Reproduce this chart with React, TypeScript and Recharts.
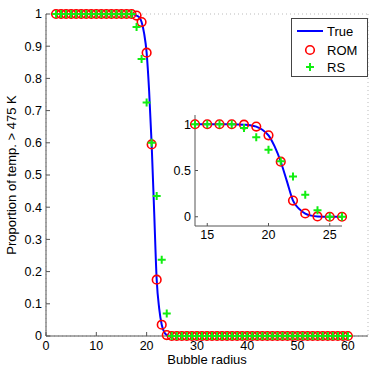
import {
  ComposedChart,
  Line,
  Scatter,
  XAxis,
  YAxis,
  CartesianGrid,
} from "recharts";

// bubble radii where ROM and RS were evaluated
const radii = [
  2, 3, 4, 5, 6, 7, 8, 9, 10, 11, 12, 13, 14, 15, 16, 17, 18, 19, 20, 21, 22,
  23, 24, 25, 26, 27, 28, 29, 30, 31, 32, 33, 34, 35, 36, 37, 38, 39, 40, 41,
  42, 43, 44, 45, 46, 47, 48, 49, 50, 51, 52, 53, 54, 55, 56, 57, 58, 59, 60,
];

const romValues = [
  1, 1, 1, 1, 1, 1, 1, 1, 1, 1, 1, 1, 1, 1, 1, 1, 0.995, 0.975, 0.88, 0.595,
  0.175, 0.035, 0.003, 0, 0, 0, 0, 0, 0, 0, 0, 0, 0, 0, 0, 0, 0, 0, 0, 0, 0, 0,
  0, 0, 0, 0, 0, 0, 0, 0, 0, 0, 0, 0, 0, 0, 0, 0, 0,
];

const rsValues = [
  1, 1, 1, 1, 1, 1, 1, 1, 1, 1, 1, 1, 1, 1, 1, 1, 0.96, 0.86, 0.725, 0.6,
  0.435, 0.237, 0.07, 0, 0, 0, 0, 0, 0, 0, 0, 0, 0, 0, 0, 0, 0, 0, 0, 0, 0, 0,
  0, 0, 0, 0, 0, 0, 0, 0, 0, 0, 0, 0, 0, 0, 0, 0, 0,
];

// reference ("True") curve
const trueRadii = [
  2, 14, 17, 18, 18.5, 19, 19.5, 20, 20.5, 21, 21.5, 22, 22.5, 23, 23.5, 24, 25,
  26, 60,
];
const trueValues = [
  1, 1, 1, 0.995, 0.99, 0.975, 0.94, 0.88, 0.76, 0.595, 0.385, 0.175, 0.085,
  0.035, 0.012, 0.003, 0, 0, 0,
];

const mainXTicks = [0, 10, 20, 30, 40, 50, 60];
const mainYTicks = [0, 0.1, 0.2, 0.3, 0.4, 0.5, 0.6, 0.7, 0.8, 0.9, 1];
const insetXTicks = [15, 20, 25];
const insetYTicks = [0, 0.5, 1];

const romData = radii.map((x, i) => ({ x, y: romValues[i] }));
const rsData = radii.map((x, i) => ({ x, y: rsValues[i] }));
const trueData = trueRadii.map((x, i) => ({ x, y: trueValues[i] }));

const insetRange = (d: { x: number }) => d.x >= 14 && d.x <= 26;

const AXIS = "#555";
const FONT = "'Liberation Sans', Arial, sans-serif";
const tickStyle = { fontSize: 12.5, fill: "#000", fontFamily: FONT };

const Ring = (props: any) => (
  <circle
    cx={props.cx}
    cy={props.cy}
    r={4.3}
    fill="none"
    stroke="#ff0000"
    strokeWidth={1.6}
  />
);

const Plus = (props: any) => (
  <path
    d={`M${props.cx - 4},${props.cy}h8M${props.cx},${props.cy - 4}v8`}
    stroke="#11ee11"
    strokeWidth={2}
    fill="none"
  />
);

function LegendBox() {
  return (
    <div
      style={{
        position: "absolute",
        left: 291,
        top: 18,
        width: 75,
        height: 57,
        background: "#fff",
        border: "1px solid #444",
      }}
    >
      <svg width={75} height={57} style={{ display: "block", fontFamily: FONT }}>
        <line x1={5} y1={12} x2={31} y2={12} stroke="#0000ff" strokeWidth={2} />
        <circle cx={18} cy={31} r={4.3} fill="none" stroke="#ff0000" strokeWidth={1.6} />
        <path d="M14,48h8M18,44v8" stroke="#11ee11" strokeWidth={2} />
        <text x={35} y={17} fontSize={13}>True</text>
        <text x={35} y={36} fontSize={13}>ROM</text>
        <text x={35} y={53} fontSize={13}>RS</text>
      </svg>
    </div>
  );
}

export default function App() {
  return (
    <div
      style={{
        position: "absolute",
        left: 0,
        top: 0,
        width: 374,
        height: 374,
        background: "#fff",
        fontFamily: FONT,
      }}
    >
      <ComposedChart
        width={374}
        height={374}
        margin={{ top: 14, right: 6, bottom: 0, left: 0 }}
      >
        <CartesianGrid stroke="#bbb" strokeDasharray="1 3" />
        <XAxis
          xAxisId="b"
          dataKey="x"
          type="number"
          domain={[0, 64]}
          ticks={mainXTicks}
          height={38}
          stroke={AXIS}
          tickSize={-4}
          tickMargin={9}
          tick={tickStyle}
        />
        <XAxis
          xAxisId="t"
          orientation="top"
          dataKey="x"
          type="number"
          domain={[0, 64]}
          ticks={mainXTicks}
          height={0}
          stroke={AXIS}
          tickSize={-4}
          tick={false}
        />
        <YAxis
          yAxisId="l"
          type="number"
          domain={[0, 1]}
          ticks={mainYTicks}
          width={46}
          stroke={AXIS}
          tickSize={-4}
          tickMargin={8}
          tick={tickStyle}
          tickFormatter={(v: number) => String(v)}
        />
        <YAxis
          yAxisId="r"
          orientation="right"
          type="number"
          domain={[0, 1]}
          ticks={mainYTicks}
          width={0}
          stroke={AXIS}
          tickSize={-4}
          tick={false}
        />
        <Line
          xAxisId="b"
          yAxisId="l"
          data={trueData}
          dataKey="y"
          type="monotone"
          stroke="#0000ff"
          strokeWidth={2}
          dot={false}
          isAnimationActive={false}
        />
        <Scatter
          xAxisId="b"
          yAxisId="l"
          data={romData}
          dataKey="y"
          shape={Ring}
          isAnimationActive={false}
        />
        <Scatter
          xAxisId="b"
          yAxisId="l"
          data={rsData}
          dataKey="y"
          shape={Plus}
          isAnimationActive={false}
        />
      </ComposedChart>

      <LegendBox />

      <div style={{ position: "absolute", left: 161, top: 110 }}>
        <ComposedChart
          width={186}
          height={136}
          margin={{ top: 5, right: 5, bottom: 0, left: 0 }}
        >
          <CartesianGrid fill="#fff" stroke="none" />
          <XAxis
            xAxisId="b"
            dataKey="x"
            type="number"
            domain={[14, 26]}
            ticks={insetXTicks}
            height={20}
            stroke={AXIS}
            tickSize={-3}
            tickMargin={7}
            tick={tickStyle}
          />
          <XAxis
            xAxisId="t"
            orientation="top"
            dataKey="x"
            type="number"
            domain={[14, 26]}
            ticks={insetXTicks}
            height={0}
            stroke={AXIS}
            tickSize={-3}
            tick={false}
          />
          <YAxis
            yAxisId="l"
            type="number"
            domain={[-0.1, 1.1]}
            ticks={insetYTicks}
            width={34}
            stroke={AXIS}
            tickSize={-3}
            tickMargin={7}
            tick={tickStyle}
          />
          <YAxis
            yAxisId="r"
            orientation="right"
            type="number"
            domain={[-0.1, 1.1]}
            ticks={insetYTicks}
            width={0}
            stroke={AXIS}
            tickSize={-3}
            tick={false}
          />
          <Line
            xAxisId="b"
            yAxisId="l"
            data={trueData.filter(insetRange)}
            dataKey="y"
            type="monotone"
            stroke="#0000ff"
            strokeWidth={2}
            dot={false}
            isAnimationActive={false}
          />
          <Scatter
            xAxisId="b"
            yAxisId="l"
            data={romData.filter(insetRange)}
            dataKey="y"
            shape={Ring}
            isAnimationActive={false}
          />
          <Scatter
            xAxisId="b"
            yAxisId="l"
            data={rsData.filter(insetRange)}
            dataKey="y"
            shape={Plus}
            isAnimationActive={false}
          />
        </ComposedChart>
      </div>

      <div
        style={{
          position: "absolute",
          left: 0,
          top: 352,
          width: 414,
          textAlign: "center",
          fontSize: 13,
        }}
      >
        Bubble radius
      </div>
      <div
        style={{
          position: "absolute",
          left: 11,
          top: 175,
          fontSize: 13,
          whiteSpace: "nowrap",
          transform: "translate(-50%, -50%) rotate(-90deg)",
        }}
      >
        Proportion of temp. &gt; 475 K
      </div>
    </div>
  );
}
